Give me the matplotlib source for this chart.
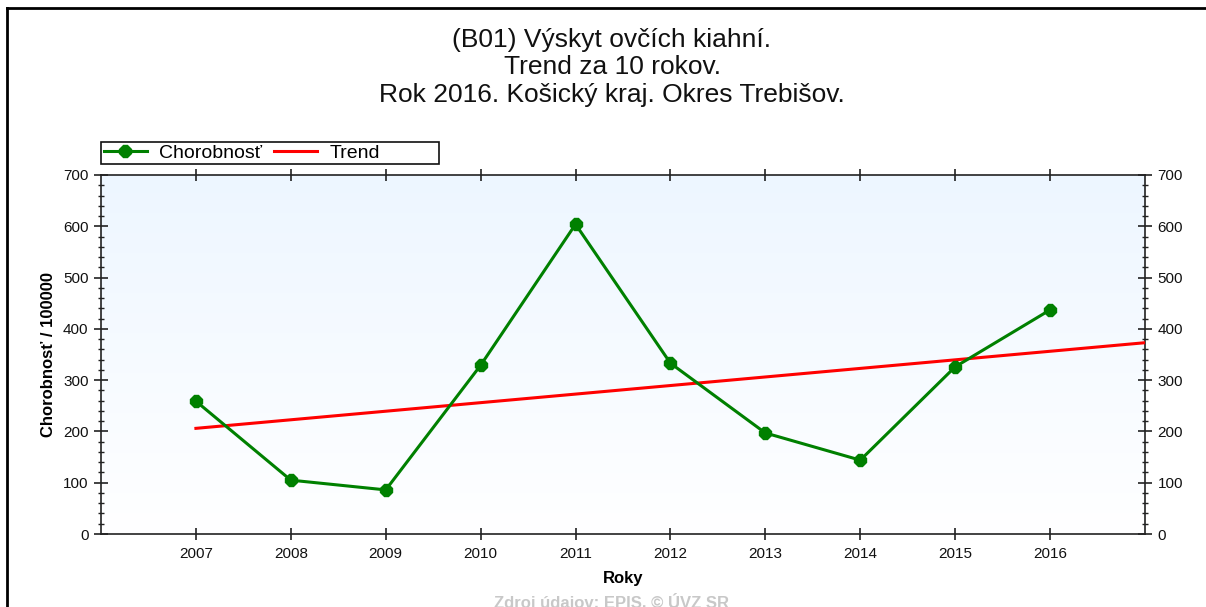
import matplotlib
matplotlib.use("Agg")
import matplotlib.pyplot as plt
import numpy as np
from matplotlib.lines import Line2D
from matplotlib.patches import Rectangle
from matplotlib.ticker import MultipleLocator

plt.rcParams['font.family'] = ['Liberation Sans', 'DejaVu Sans']

years = [2007, 2008, 2009, 2010, 2011, 2012, 2013, 2014, 2015, 2016]
chorobnost = [259, 105, 86, 329, 604, 333, 197, 144, 326, 437]
trend_years = [2007, 2017]
trend_values = [206, 373]
title_lines = ["(B01) Výskyt ovčích kiahní.", "Trend za 10 rokov.",
               "Rok 2016. Košický kraj. Okres Trebišov."]

W, H = 1206, 607
fig = plt.figure(figsize=(W / 100, H / 100), dpi=100)
fig.patch.set_facecolor('white')

ax = fig.add_axes([101 / W, 1 - 534 / H, (1145 - 101) / W, (534 - 175) / H])
ax.set_xlim(2006, 2017)
ax.set_ylim(0, 700)

# gradient background
grad = np.linspace(0, 1, 256).reshape(-1, 1)
top = np.array([0.93, 0.965, 1.0])
bot = np.array([1.0, 1.0, 1.0])
img = top * (1 - grad)[:, :, None] + bot * grad[:, :, None]
ax.imshow(img, extent=[0, 1, 0, 1], transform=ax.transAxes, aspect='auto', zorder=0)

ax.plot(trend_years, trend_values, color='#ff0000', lw=2.2, zorder=3, label='Trend')
ax.plot(years, chorobnost, color='#008000', lw=2.2, marker='8', markersize=9,
        zorder=4, label='Chorobnosť')

for s in ax.spines.values():
    s.set_color('#222222')
    s.set_linewidth(1.2)

ax.set_xticks(years)
ax.set_xticklabels([str(y) for y in years])
ax.tick_params(axis='x', direction='inout', length=9, width=1.2, labelsize=11,
               pad=5, top=True, colors='#222222', labelcolor='#111111')
ax.yaxis.set_major_locator(MultipleLocator(100))
ax.yaxis.set_minor_locator(MultipleLocator(20))
ax.tick_params(axis='y', which='major', direction='inout', length=10, width=1.2,
               labelsize=11, pad=4, colors='#222222', labelcolor='#111111')
ax.tick_params(axis='y', which='minor', direction='inout', length=5, width=1.0,
               colors='#222222')
ax.tick_params(axis='y', which='both', right=True, labelright=True)

ax.set_xlabel('Roky', fontsize=12, fontweight='bold', labelpad=7)
ax.set_ylabel('Chorobnosť / 100000', fontsize=12, fontweight='bold', labelpad=5)

# title
for t, yy in zip(title_lines, [40, 67, 95]):
    fig.text(612 / W, 1 - yy / H, t, ha='center', va='center', fontsize=19,
             fontweight='medium', color='#111111')

fig.text(612 / W, 1 - 593 / H, 'Zdroj údajov: EPIS, © ÚVZ SR', ha='center', va='top',
         fontsize=12, fontweight='bold', color='#c8c8c8')

# legend
handles = [Line2D([], [], color='#008000', lw=2.2, marker='8', markersize=9),
           Line2D([], [], color='#ff0000', lw=2.2)]
leg = fig.legend(handles, ['Chorobnosť', 'Trend'], ncol=2, loc='center left',
                 bbox_to_anchor=(104 / W, 1 - 153 / H),
                 bbox_transform=fig.transFigure, frameon=False, fontsize=14,
                 handlelength=2.2, handletextpad=0.65, borderpad=0,
                 borderaxespad=0, columnspacing=0.6)
fig.add_artist(Rectangle((101 / W, 1 - 164 / H), (439 - 101) / W, 22 / H,
                         transform=fig.transFigure, fill=False, edgecolor='#111111',
                         lw=1.2))

# outer frame lines (top and left)
fig.add_artist(Line2D([7 / W, 1], [1 - 8 / H, 1 - 8 / H], color='black', lw=2,
                      transform=fig.transFigure))
fig.add_artist(Line2D([7 / W, 7 / W], [0, 1 - 8 / H], color='black', lw=2,
                      transform=fig.transFigure))

fig.savefig('out.png', dpi=100)
